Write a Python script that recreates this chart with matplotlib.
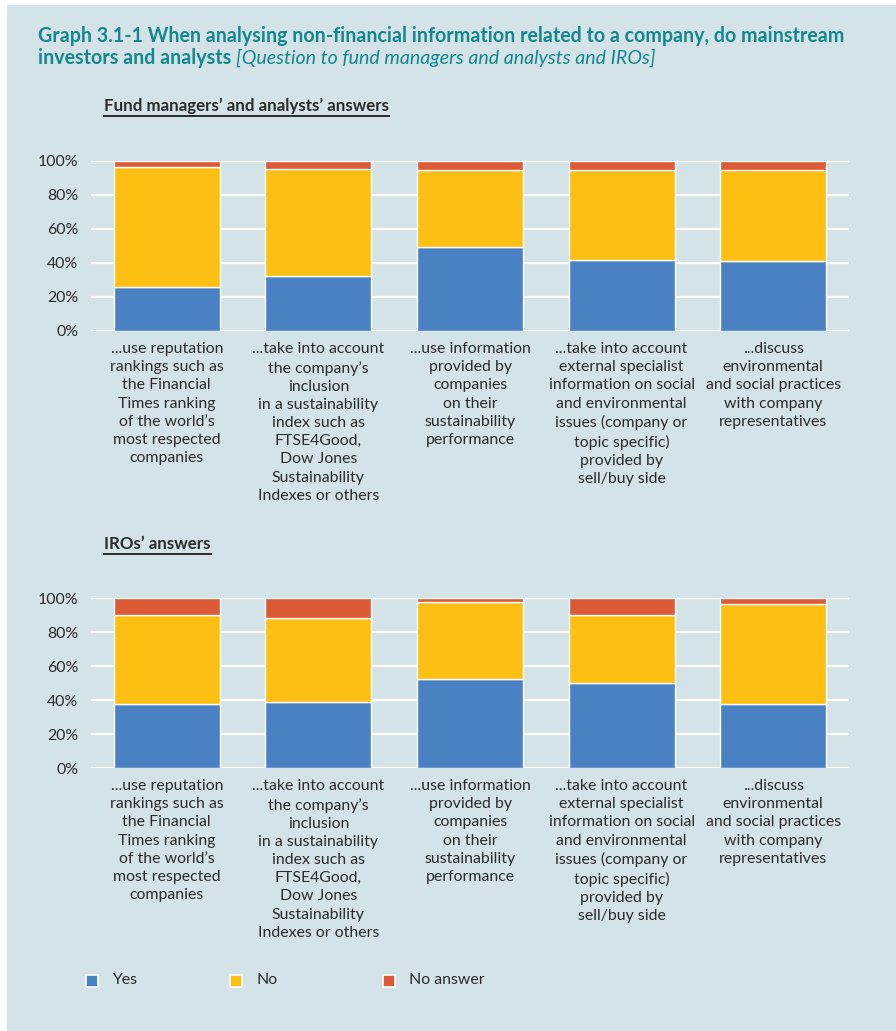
import matplotlib
matplotlib.use("Agg")
import matplotlib.pyplot as plt
from matplotlib.patches import Rectangle
from matplotlib.lines import Line2D

plt.rcParams['font.family'] = ['Lato', 'DejaVu Sans']

# answers in percent
categories = [
    "...use reputation\nrankings such as\nthe Financial\nTimes ranking\nof the world\u2019s\nmost respected\ncompanies",
    "...take into account\nthe company\u2019s\ninclusion\nin a sustainability\nindex such as\nFTSE4Good,\nDow Jones\nSustainability\nIndexes or others",
    "...use information\nprovided by\ncompanies\non their\nsustainability\nperformance",
    "...take into account\nexternal specialist\ninformation on social\nand environmental\nissues (company or\ntopic specific)\nprovided by\nsell/buy side",
    "...discuss\nenvironmental\nand social practices\nwith company\nrepresentatives",
]
series = ["Yes", "No", "No answer"]

fund_yes = [26, 32.5, 49.5, 41.5, 41]
fund_no = [70.5, 63, 45, 53, 54]
fund_na = [3.5, 4.5, 5.5, 5.5, 5]

iro_yes = [37.5, 39, 52.5, 50, 37.5]
iro_no = [52.5, 49, 45, 40, 59]
iro_na = [10, 12, 2.5, 10, 3.5]

yticks = [0, 20, 40, 60, 80, 100]
ytick_labels = ["0%", "20%", "40%", "60%", "80%", "100%"]

BG = "#d4e3e8"
COLORS = ["#4a81c2", "#fdbf12", "#dc5a35"]
TEXT = "#2b2b2b"
TEAL = "#14878f"
LABEL_SIZE = 11.4

W, H = 896, 1031
fig = plt.figure(figsize=(W / 100, H / 100), dpi=100)
fig.patch.set_facecolor("white")
fig.patches.append(Rectangle((7 / W, 0), 1, 1 - 5 / H, transform=fig.transFigure,
                             facecolor=BG, edgecolor="none", zorder=-10))


def px_axes(left, top, right, bottom):
    return fig.add_axes([left / W, 1 - bottom / H, (right - left) / W, (bottom - top) / H])


def draw_panel(ax, yes, no, na):
    ax.set_facecolor("none")
    x = range(len(categories))
    bottoms = [0] * len(categories)
    for vals, color in zip([yes, no, na], COLORS):
        ax.bar(x, vals, width=0.7, bottom=bottoms, color=color,
               edgecolor="white", linewidth=1.0, zorder=3)
        bottoms = [b + v for b, v in zip(bottoms, vals)]
    ax.set_xlim(-0.5, len(categories) - 0.5)
    ax.set_ylim(0, 100)
    ax.set_yticks(yticks)
    ax.set_yticklabels(ytick_labels)
    ax.yaxis.grid(True, color="white", linewidth=1.6, zorder=0)
    ax.set_axisbelow(True)
    for s in ax.spines.values():
        s.set_visible(False)
    ax.tick_params(axis="y", length=0, pad=9, labelsize=LABEL_SIZE, labelcolor=TEXT)
    ax.tick_params(axis="x", length=0, pad=8, labelsize=LABEL_SIZE, labelcolor=TEXT)
    ax.set_xticks(list(x))
    ax.set_xticklabels(categories, linespacing=1.38)


def underlined(x, y, text):
    t = fig.text(x / W, 1 - y / H, text, fontsize=12.2, fontweight="bold",
                 color=TEXT, ha="left", va="center")
    fig.canvas.draw()
    bb = t.get_window_extent()
    fig.add_artist(Line2D([bb.x0 / W, bb.x1 / W], [(bb.y0 - 2) / H] * 2,
                          transform=fig.transFigure, color=TEXT, linewidth=1.4))


fig.text(38 / W, 1 - 36 / H,
         "Graph 3.1-1 When analysing non-financial information related to a company, do mainstream",
         fontsize=14.1, fontweight="bold", color=TEAL, ha="left", va="center")
t2 = fig.text(38 / W, 1 - 58 / H, "investors and analysts ", fontsize=14.1, fontweight="bold",
              color=TEAL, ha="left", va="center")
fig.canvas.draw()
bb = t2.get_window_extent()
fig.text(bb.x1 / W, 1 - 58 / H, "[Question to fund managers and analysts and IROs]",
         fontsize=14.1, fontstyle="italic", color=TEAL, ha="left", va="center")

underlined(104, 106, "Fund managers\u2019 and analysts\u2019 answers")
underlined(104, 544, "IROs\u2019 answers")

ax1 = px_axes(91, 161, 849, 331)
draw_panel(ax1, fund_yes, fund_no, fund_na)
ax2 = px_axes(91, 598, 849, 768)
draw_panel(ax2, iro_yes, iro_no, iro_na)

# legend row
for (sx, tx), name, color in zip([(92, 112), (236, 256), (389, 409)], series, COLORS):
    fig.patches.append(Rectangle(((sx - 6) / W, 1 - (981 + 6) / H), 12 / W, 12 / H,
                                 transform=fig.transFigure, facecolor=color,
                                 edgecolor="white", linewidth=1.2))
    fig.text(tx / W, 1 - 980 / H, name, fontsize=LABEL_SIZE, color=TEXT, ha="left", va="center")

fig.savefig("out.png", dpi=100, facecolor=fig.get_facecolor())
